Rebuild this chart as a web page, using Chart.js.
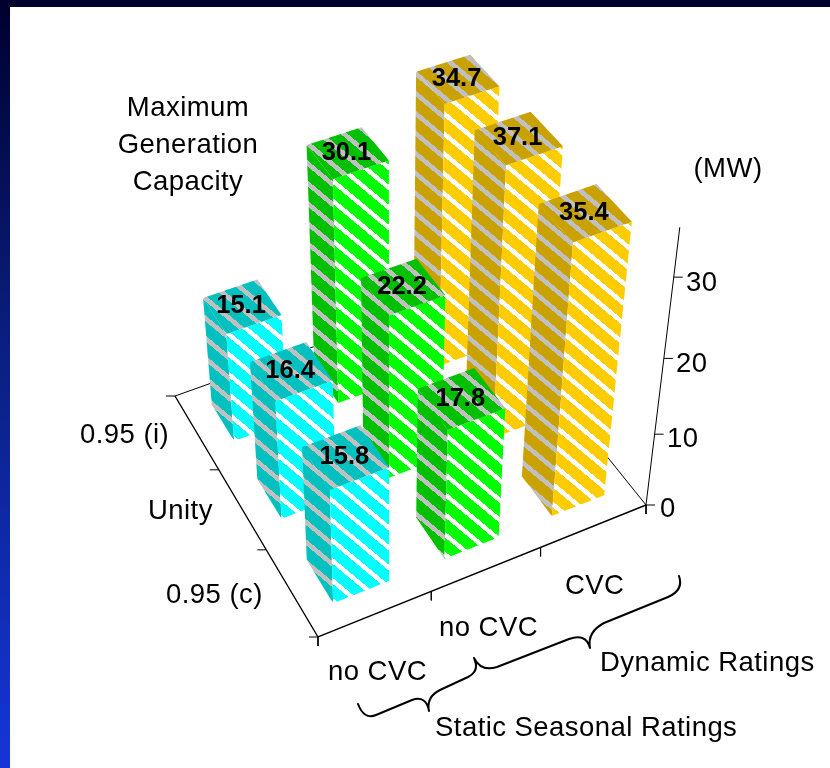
<!DOCTYPE html>
<html><head><meta charset="utf-8">
<style>html,body{margin:0;padding:0;background:#fff}canvas{display:block}</style>
<script src="https://cdn.jsdelivr.net/npm/chart.js@4"></script>
</head><body><canvas id="c" width="830" height="768"></canvas>
<script>
// ---- data ----
const columnLabels = ['no CVC', 'no CVC', 'CVC'];
const rowLabels = ['0.95 (c)', 'Unity', '0.95 (i)'];
// bar heights, front row to back row
const staticNoCvc = [15.8, 16.4, 15.1];
const dynamicNoCvc = [17.8, 22.2, 30.1];
const dynamicCvc = [35.4, 35.6, 34.7];
// value captions printed on the bar tops
const staticNoCvcLabels = ['15.8', '16.4', '15.1'];
const dynamicNoCvcLabels = ['17.8', '22.2', '30.1'];
const dynamicCvcLabels = ['35.4', '37.1', '34.7'];
const valueTicks = [0, 10, 20, 30];
const valueAxisMax = 35.8;
const seriesColors = [
  {front:'#00FFFF', light:'#FFFFFF', dark:'#00C0C0', shade:'#C0C0C0'},
  {front:'#00FF00', light:'#FFFFFF', dark:'#00C000', shade:'#C0C0C0'},
  {front:'#FFCC00', light:'#FFFFFF', dark:'#C9A200', shade:'#C0C0C0'}
];
// ---- oblique-perspective view of the 3D plot box ----
const corner = {F:[318,637], R:[646,505], B:[473,290], A:[175,396]};
const view = (function(){
  const [x0,y0]=corner.F,[x1,y1]=corner.R,[x2,y2]=corner.B,[x3,y3]=corner.A;
  const dx1=x1-x2,dx2=x3-x2,sx=x0-x1+x2-x3,dy1=y1-y2,dy2=y3-y2,sy=y0-y1+y2-y3;
  const den=dx1*dy2-dx2*dy1;
  const g=(sx*dy2-dx2*sy)/den,h=(dx1*sy-sx*dy1)/den;
  const cz=-0.00327*(1+g);
  return {a:x1-x0+g*x1,b:x3-x0+h*x3,c:x0,d:y1-y0+g*y1,e:y3-y0+h*y3,f:y0,g,h,
          az:391*cz,bz:2600*cz,cz};
})();
function project(u,v,z){
  const w=view.g*u+view.h*v+1+view.cz*z;
  return {x:(view.a*u+view.b*v+view.c+view.az*z)/w,y:(view.d*u+view.e*v+view.f+view.bz*z)/w};
}
function stripes(base,light,phase){
  const W=24,H=20,cv=document.createElement('canvas');cv.width=W;cv.height=H;
  const ctx=cv.getContext('2d');
  ctx.fillStyle=base;ctx.fillRect(0,0,W,H);ctx.fillStyle=light;
  for(let y=0;y<H;y++)for(let x=0;x<W;x++){
    let t=(x/W-y/H+phase)%1;if(t<0)t+=1;
    if(t<0.3)ctx.fillRect(x,y,1,1);
  }
  return ctx.createPattern(cv,'repeat');
}
const series=[staticNoCvc,dynamicNoCvc,dynamicCvc];
const seriesLabels=[staticNoCvcLabels,dynamicNoCvcLabels,dynamicCvcLabels];
const nC=columnLabels.length,nR=rowLabels.length,half=0.25;
const datasets=[];
function lineSet(points,width,col){
  datasets.push({data:points,showLine:true,borderColor:col||'#000',borderWidth:width,pointRadius:0,tension:0,fill:false,spanGaps:false,order:-datasets.length});
}
function face(points,pattern){
  datasets.push({data:points,showLine:true,borderWidth:0,borderColor:'rgba(0,0,0,0)',backgroundColor:pattern,pointRadius:0,tension:0,fill:'shape',order:-datasets.length});
}
// plot box
lineSet([project(0,1,0),project(1,1,0),project(1,0,0)],1);
lineSet([project(0,1,0),project(0,0,0),project(1,0,0)],1.4);
lineSet([project(1,0,0),project(1,0,valueAxisMax)],1);
// ticks
const tickLen=9,tickPts=[];
for(let j=0;j<=nR;j++){const p=project(0,j/nR,0);tickPts.push({x:p.x-tickLen,y:p.y},p,{x:NaN,y:NaN});}
for(let i=0;i<=nC;i++){const p=project(i/nC,0,0);tickPts.push(p,{x:p.x,y:p.y+tickLen},{x:NaN,y:NaN});}
valueTicks.forEach(v=>{const p=project(1,0,v);tickPts.push(p,{x:p.x+tickLen,y:p.y},{x:NaN,y:NaN});});
lineSet(tickPts,1);
// bars, drawn back to front
const patterns=seriesColors.map(c=>({front:stripes(c.front,c.light,.33),dark:stripes(c.dark,c.shade,.5)}));
for(let j=nR-1;j>=0;j--){
  for(let i=nC-1;i>=0;i--){
    const z=series[i][j],uc=(i+.5)/nC,vc=(j+.5)/nR,du=half/nC,dv=half/nR;
    const u0=uc-du,u1=uc+du,v0=vc-dv,v1=vc+dv,pt=patterns[i];
    face([project(u0,v1,0),project(u0,v0,0),project(u0,v0,z),project(u0,v1,z)],pt.dark);
    face([project(u0,v0,0),project(u1,v0,0),project(u1,v0,z),project(u0,v0,z)],pt.front);
    face([project(u0,v0,z),project(u1,v0,z),project(u1,v1,z),project(u0,v1,z)],pt.dark);
  }
}
const textFont='27.5px "Liberation Sans", Arial, sans-serif';
const annotations=[
  ['Maximum',188,116,'center'],['Generation',188,153,'center'],['Capacity',188,190,'center'],
  ['(MW)',728,177,'center'],
  [rowLabels[2],80,443,'left'],[rowLabels[1],148,519,'left'],[rowLabels[0],166,603,'left'],
  [columnLabels[0],328,680,'left'],[columnLabels[1],439,636,'left'],[columnLabels[2],565,594,'left'],
  ['Dynamic Ratings',600,671,'left'],['Static Seasonal Ratings',435,736,'left']
];
const tickLabelPos=[[660,517],[667,447],[676,372],[686,291]];
const overlay={
  id:'overlay',
  beforeDraw(chart){
    const ctx=chart.ctx;
    const g=ctx.createLinearGradient(0,0,0,768);
    g.addColorStop(0,'#00002E');g.addColorStop(.45,'#0A1F80');g.addColorStop(1,'#1535D8');
    ctx.save();ctx.fillStyle='#fff';ctx.fillRect(0,0,830,768);
    ctx.fillStyle=g;ctx.fillRect(0,0,10,768);
    ctx.fillStyle='#00002E';ctx.fillRect(0,0,830,7);ctx.restore();
  },
  afterDraw(chart){
    const ctx=chart.ctx;ctx.save();ctx.fillStyle='#000';ctx.textBaseline='alphabetic';
    ctx.font=textFont;ctx.letterSpacing='0.45px';
    annotations.forEach(a=>{ctx.textAlign=a[3];ctx.fillText(a[0],a[1],a[2]);});
    ctx.textAlign='left';
    valueTicks.forEach((v,k)=>ctx.fillText(String(v),tickLabelPos[k][0],tickLabelPos[k][1]));
    ctx.letterSpacing='0px';
    // braces
    ctx.lineWidth=2;ctx.strokeStyle='#000';ctx.lineCap='round';ctx.lineJoin='round';
    ctx.beginPath();ctx.moveTo(358,704);ctx.quadraticCurveTo(364,720,376,715);ctx.lineTo(412,700);
    ctx.quadraticCurveTo(426,695,429,711);ctx.quadraticCurveTo(426,697,440,690);ctx.lineTo(468,677);
    ctx.quadraticCurveTo(480,671,474,658);ctx.quadraticCurveTo(481,672,497,667);ctx.lineTo(569,639);
    ctx.quadraticCurveTo(586,633,590,648);ctx.quadraticCurveTo(587,632,604,623);ctx.lineTo(668,597);
    ctx.quadraticCurveTo(684,590,679,576);ctx.stroke();
    // value captions on the bar tops
    ctx.font='bold 25.5px "Liberation Sans", Arial, sans-serif';ctx.textAlign='center';ctx.textBaseline='middle';
    for(let i=0;i<nC;i++)for(let j=0;j<nR;j++){
      const p=project((i+.5)/nC,(j+.5)/nR,series[i][j]);
      ctx.fillText(seriesLabels[i][j],p.x-1,p.y);
    }
    ctx.restore();
  }
};
new Chart(document.getElementById('c'),{
  type:'scatter',
  data:{datasets},
  plugins:[overlay],
  options:{
    responsive:false,animation:false,events:[],
    layout:{padding:0},
    plugins:{legend:{display:false},tooltip:{enabled:false},title:{display:false}},
    scales:{
      x:{type:'linear',min:0,max:830,display:false},
      y:{type:'linear',min:0,max:768,reverse:true,display:false}
    }
  }
});
</script></body></html>
